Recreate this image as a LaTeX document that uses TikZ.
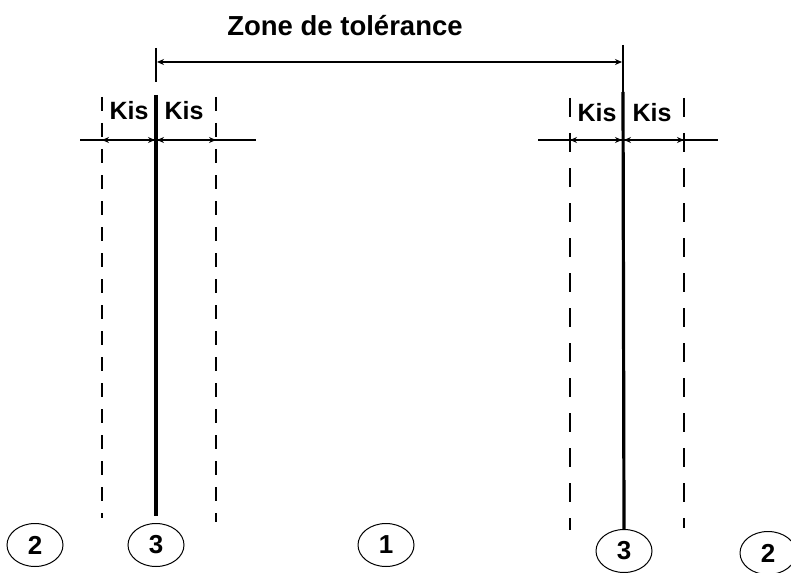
\documentclass[tikz,border=0pt]{standalone}
\usepackage{fontspec}
\setmainfont{Liberation Sans}
\usetikzlibrary{shapes.geometric,arrows.meta}
\begin{document}
\begin{tikzpicture}[x=1pt,y=-1pt,
  lbl/.style={font=\bfseries\fontsize{25}{27}\selectfont, inner sep=0pt},
  num/.style={ellipse, draw, line width=1pt, minimum width=56pt, minimum height=43pt, inner sep=0pt, font=\bfseries\fontsize{26}{28}\selectfont},
  dimline/.style={line width=1.2pt, {Stealth[length=7pt,width=6pt]}-{Stealth[length=7pt,width=6pt]}},
  axisthick/.style={line width=3.2pt},
  axisthin/.style={line width=1.3pt},
  guide/.style={line width=1.2pt},
  dashA/.style={line width=1.5pt, dash pattern=on 14pt off 12pt},
  dashB/.style={line width=1.5pt, dash pattern=on 19pt off 16pt}]
\useasboundingbox (0,0) rectangle (791,572);
\fill[white] (0,0) rectangle (791,572);

% circles
\node[num] (c2a) at (35,545) {2};
\node[num] (c3a) at (156,545) {3};
\node[num] (c1) at (386,545) {1};
\node[num] (c3b) at (624,551) {3};
\node[num] (c2b) at (768,553) {2};

% title
\node[lbl, font=\bfseries\fontsize{27.5}{30}\selectfont] (title) at (345,26) {Zone de tolérance};

% left group
\coordinate (ltop) at (156,48);
\coordinate (ltickend) at (156,82);
\coordinate (lsol) at (156,95);
\coordinate (lbot) at (156,516);
\draw[axisthin] (ltop) -- (ltickend);
\draw[axisthick] (lsol) -- (lbot);
\coordinate (ld1t) at (102,97);
\coordinate (ld1b) at (102,518);
\coordinate (ld2t) at (216,97);
\coordinate (ld2b) at (216,522);
\draw[dashA] (ld1t) -- (ld1b);
\draw[dashA] (ld2t) -- (ld2b);
\coordinate (lh1) at (80,140);
\coordinate (lh2) at (256,140);
\draw[guide] (lh1) -- (lh2);
\coordinate (la) at (102,140);
\coordinate (lb) at (155,140);
\coordinate (lc) at (157,140);
\coordinate (ld) at (216,140);
\draw[dimline] (la) -- (lb);
\draw[dimline] (lc) -- (ld);
\node[lbl] (k1) at (129,111) {Kis};
\node[lbl] (k2) at (184,111) {Kis};

% right group
\coordinate (rtop) at (623,45);
\coordinate (rsol) at (623,92);
\draw[axisthin] (rtop) -- (rsol);
\draw[axisthick] (rsol) -- (c3b.north);
\coordinate (rd1t) at (570,98);
\coordinate (rd1b) at (570,530);
\coordinate (rd2t) at (684,98);
\coordinate (rd2b) at (684,528);
\draw[dashB] (rd1t) -- (rd1b);
\draw[dashB] (rd2t) -- (rd2b);
\coordinate (rh1) at (538,140);
\coordinate (rh2) at (718,140);
\draw[guide] (rh1) -- (rh2);
\coordinate (ra) at (570,140);
\coordinate (rb) at (622,140);
\coordinate (rc) at (624,140);
\coordinate (rd) at (684,140);
\draw[dimline] (ra) -- (rb);
\draw[dimline] (rc) -- (rd);
\node[lbl] (k3) at (597,113) {Kis};
\node[lbl] (k4) at (652,113) {Kis};

% tolerance zone
\coordinate (za) at (157,62);
\coordinate (zb) at (622,62);
\draw[dimline] (za) -- (zb);
\end{tikzpicture}
\end{document}
